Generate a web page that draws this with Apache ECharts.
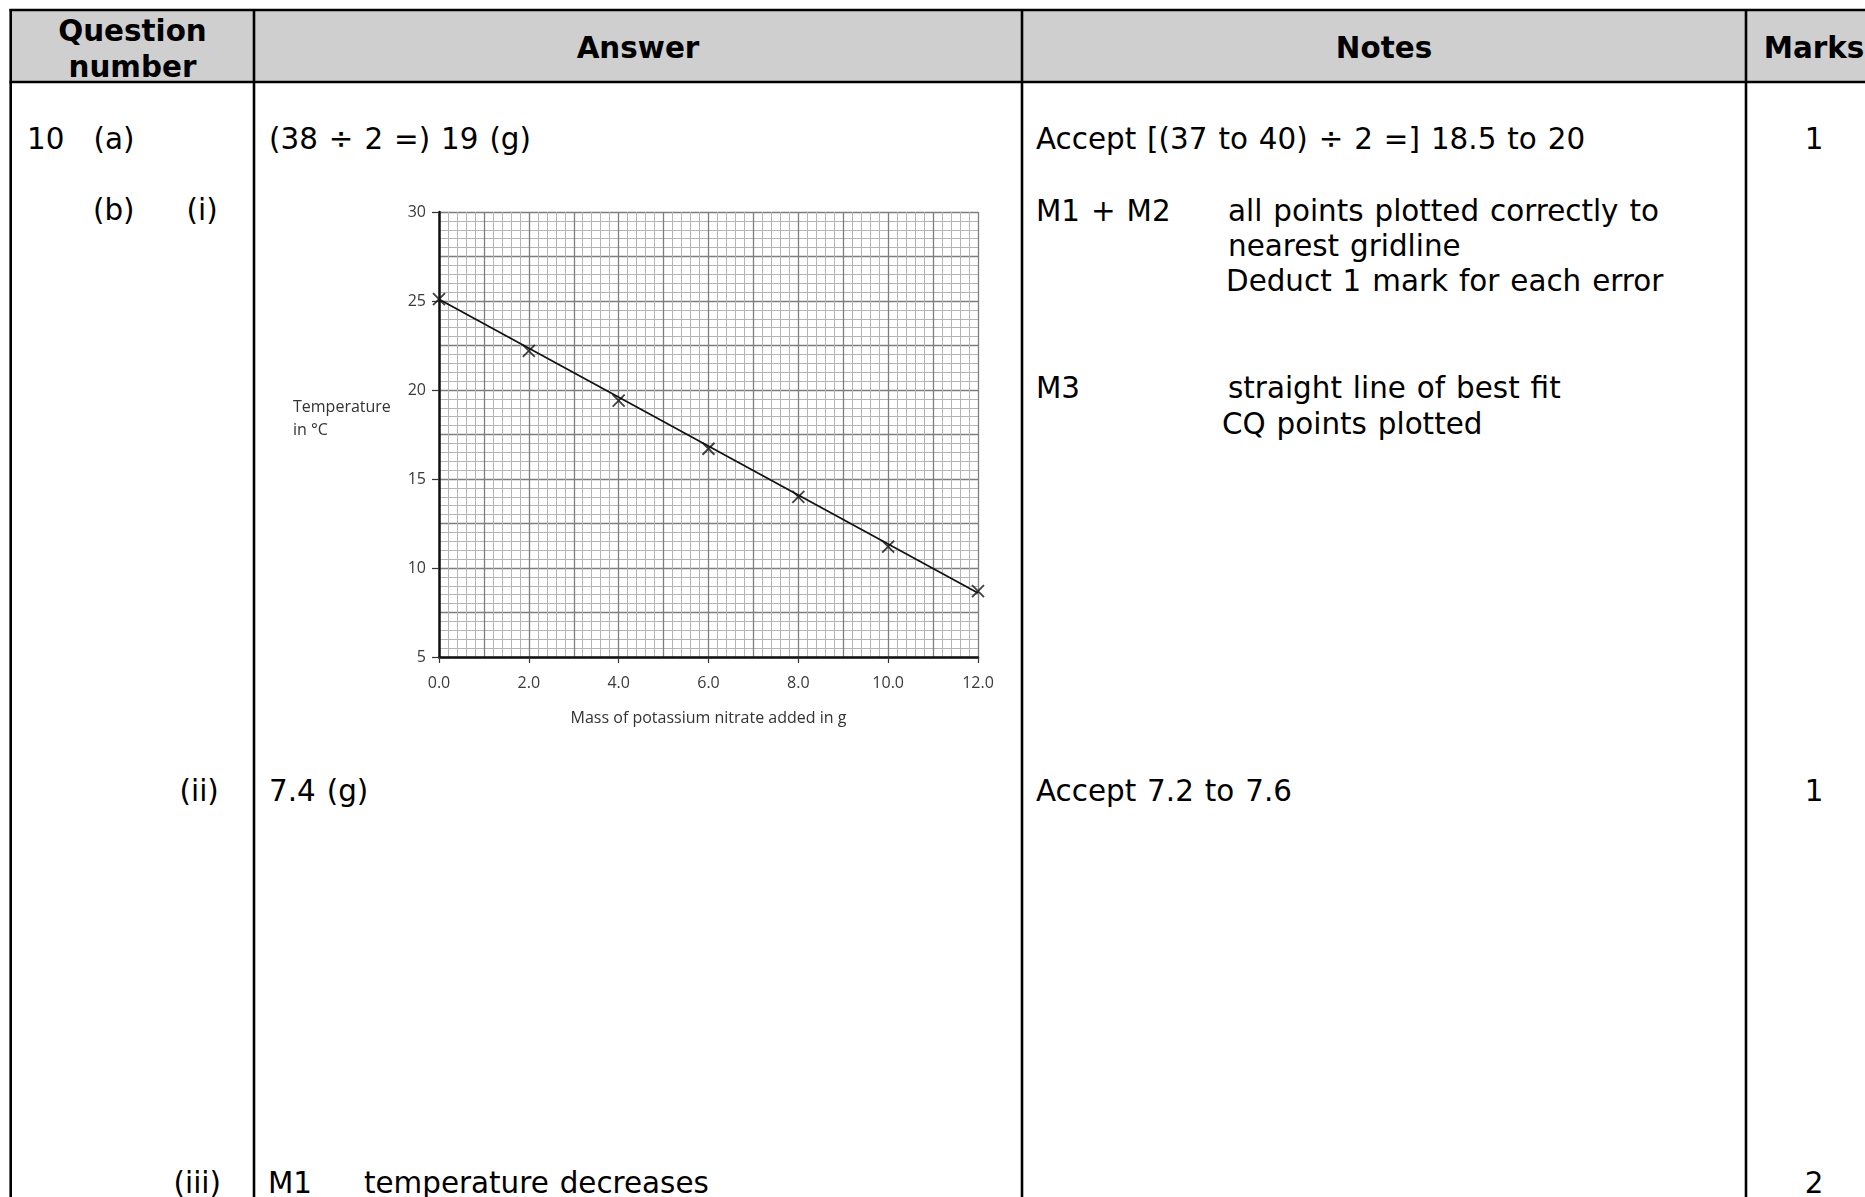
<!DOCTYPE html>
<html>
<head>
<meta charset="utf-8">
<script src="https://cdn.jsdelivr.net/npm/echarts@6/dist/echarts.min.js"></script>
<style>
  html, body { margin:0; padding:0; background:#fff; }
  #page { position:relative; width:1865px; height:1197px; overflow:hidden; background:#fff; }
  #table { position:absolute; left:0; top:0; }
  #chart { position:absolute; left:0; top:0; width:1865px; height:1197px; }
  text { font-family:"DejaVu Sans", Verdana, sans-serif; fill:#000; }
  .body text { word-spacing:1.6px; }
</style>
</head>
<body>
<div id="page">
<svg id="table" width="1865" height="1197" xmlns="http://www.w3.org/2000/svg">
  <rect x="10.7" y="10" width="1880" height="72" fill="#cfcfcf"/>
  <line x1="9.5" y1="10" x2="1900" y2="10" stroke="#000" stroke-width="2.7"/>
  <line x1="9.5" y1="82" x2="1900" y2="82" stroke="#000" stroke-width="2.7"/>
  <line x1="10.7" y1="9" x2="10.7" y2="1197" stroke="#000" stroke-width="2.6"/>
  <line x1="254" y1="9" x2="254" y2="1197" stroke="#000" stroke-width="2.6"/>
  <line x1="1022" y1="9" x2="1022" y2="1197" stroke="#000" stroke-width="2.6"/>
  <line x1="1746" y1="9" x2="1746" y2="1197" stroke="#000" stroke-width="2.6"/>
  <g font-weight="bold" font-size="29.4" text-anchor="middle">
    <text x="132.5" y="40.5">Question</text>
    <text x="132.5" y="76.5">number</text>
    <text x="638" y="57.5">Answer</text>
    <text x="1384" y="57.5">Notes</text>
    <text x="1814" y="57.5">Marks</text>
  </g>
  <g class="body" font-size="29.4">
    <text x="27" y="149">10</text>
    <text x="93.5" y="149">(a)</text>
    <text x="93" y="220">(b)</text>
    <text x="186.5" y="220">(i)</text>
    <text x="179.5" y="801">(ii)</text>
    <text x="173.5" y="1193">(iii)</text>

    <text x="269" y="149">(38 ÷ 2 =) 19 (g)</text>
    <text x="269" y="801">7.4 (g)</text>
    <text x="268" y="1193">M1</text>
    <text x="364" y="1193">temperature decreases</text>

    <text x="1036" y="149">Accept [(37 to 40) ÷ 2 =] 18.5 to 20</text>
    <text x="1036" y="221">M1 + M2</text>
    <text x="1228" y="221">all points plotted correctly to</text>
    <text x="1228" y="256">nearest gridline</text>
    <text x="1226" y="291">Deduct 1 mark for each error</text>
    <text x="1036" y="398">M3</text>
    <text x="1228" y="398">straight line of best fit</text>
    <text x="1222" y="434">CQ points plotted</text>
    <text x="1036" y="801">Accept 7.2 to 7.6</text>
  </g>
  <g font-size="29.4" text-anchor="middle">
    <text x="1814" y="149">1</text>
    <text x="1814" y="801">1</text>
    <text x="1814" y="1193">2</text>
  </g>
</svg>
<div id="chart"></div>
</div>
<script>
// ---- data ----
const massAdded = [0, 2, 4, 6, 8, 10, 12];                 // g
const temperature = [25.1, 22.2, 19.4, 16.7, 14.0, 11.2, 8.7]; // °C
const bestFitMass = [0, 12];
const bestFitTemp = [25.1, 8.6];
const xAxisTitle = 'Mass of potassium nitrate added in g';
const yAxisTitle = ['Temperature', 'in °C'];

const chartFont = '"Open Sans", "Noto Sans", sans-serif';
const pts = massAdded.map((m, i) => [m, temperature[i]]);
const fit = bestFitMass.map((m, i) => [m, bestFitTemp[i]]);

const chart = echarts.init(document.getElementById('chart'));
chart.setOption({
  animation: false,
  backgroundColor: 'transparent',
  grid: { left: 439, top: 212, width: 539, height: 445 },
  xAxis: [
    {
      type: 'value', min: 0, max: 12, interval: 1, position: 'bottom',
      axisLine: { show: false }, axisTick: { show: false }, axisLabel: { show: false },
      splitLine: { show: true, lineStyle: { color: '#7e7e7e', width: 1.3 } },
      minorTick: { show: false, splitNumber: 5 },
      minorSplitLine: { show: true, lineStyle: { color: '#b4b4b4', width: 1 } }
    },
    {
      type: 'value', min: 0, max: 12, interval: 2, position: 'bottom',
      axisLine: { show: true, onZero: false, lineStyle: { color: '#111', width: 2.5 } },
      axisTick: { show: true, length: 6, lineStyle: { color: '#333', width: 1.2 } },
      axisLabel: { formatter: v => v.toFixed(1), margin: 18, fontSize: 16, color: '#3a3a3a', fontFamily: chartFont },
      splitLine: { show: false },
      name: xAxisTitle, nameLocation: 'middle', nameGap: 53,
      nameTextStyle: { fontSize: 16, color: '#333', fontFamily: chartFont }
    }
  ],
  yAxis: [
    {
      type: 'value', min: 5, max: 30, interval: 2.5, position: 'left',
      axisLine: { show: false }, axisTick: { show: false }, axisLabel: { show: false },
      splitLine: { show: true, lineStyle: { color: '#7e7e7e', width: 1.3 } },
      minorTick: { show: false, splitNumber: 5 },
      minorSplitLine: { show: true, lineStyle: { color: '#b4b4b4', width: 1 } }
    },
    {
      type: 'value', min: 5, max: 30, interval: 5, position: 'left',
      axisLine: { show: true, onZero: false, lineStyle: { color: '#111', width: 2.5 } },
      axisTick: { show: true, length: 7, lineStyle: { color: '#333', width: 1.2 } },
      axisLabel: { margin: 13, fontSize: 16, color: '#3a3a3a', fontFamily: chartFont },
      splitLine: { show: false }
    }
  ],
  graphic: [
    { type: 'text', x: 293, y: 407, style: { text: yAxisTitle[0], fill: '#333', font: '16px ' + chartFont, verticalAlign: 'middle' } },
    { type: 'text', x: 293, y: 430, style: { text: yAxisTitle[1], fill: '#333', font: '16px ' + chartFont, verticalAlign: 'middle' } }
  ],
  series: [
    {
      type: 'line', xAxisIndex: 1, yAxisIndex: 1, data: fit,
      showSymbol: false, lineStyle: { color: '#111', width: 1.7 }
    },
    {
      type: 'scatter', xAxisIndex: 1, yAxisIndex: 1, data: pts,
      symbol: 'path://M0,0L10,10M10,0L0,10', symbolSize: 12,
      itemStyle: { color: 'none', borderColor: '#111', borderWidth: 1.8 }
    }
  ]
});
</script>
</body>
</html>
